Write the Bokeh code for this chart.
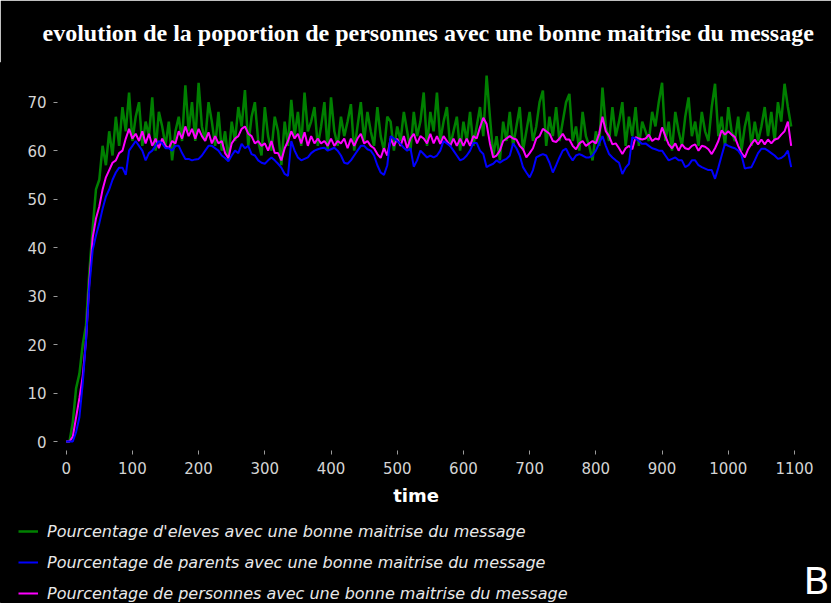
from bokeh.plotting import figure
from bokeh.models import Range1d, FixedTicker, Legend, LegendItem, Label, ColumnDataSource
from bokeh.embed import file_html
from bokeh.resources import INLINE

title_text = "evolution de la poportion de personnes avec une bonne maitrise du message"
x_label = "time"
label_eleves = "Pourcentage d'eleves avec une bonne maitrise du message"
label_parents = "Pourcentage de parents avec une bonne maitrise du message"
label_personnes = "Pourcentage de personnes avec une bonne maitrise du message"
panel_letter = "B"

x_ticks = [0, 100, 200, 300, 400, 500, 600, 700, 800, 900, 1000, 1100]
y_ticks = [0, 10, 20, 30, 40, 50, 60, 70]

time = list(range(0, 1100, 5))

eleves = [
    0, 0, 4, 11, 14, 20, 24, 35, 44, 52,
    54, 61, 57, 64, 59, 67, 61, 69, 64, 72,
    62, 67, 70, 61, 66, 63, 71, 60, 68, 65,
    61, 66, 58, 64, 67, 62, 73.5, 64, 70, 62,
    74, 65, 62, 70, 66, 61, 68, 60, 64, 58,
    66, 62, 69, 65, 72.5, 61, 67, 70, 62, 59,
    69, 63, 60, 67, 64, 57, 66, 61, 70.5, 63,
    68, 61, 72, 64, 66, 69, 61, 65, 70, 60,
    71, 64, 61, 67, 63, 66, 69.6, 60, 65, 70,
    62, 68, 64, 61, 69, 63, 60, 67, 66, 60,
    65, 62, 68, 64, 60, 68, 63, 66, 72, 61,
    68, 64, 72, 62, 66, 69, 61, 64, 67, 60,
    66, 62, 68, 61, 65, 69, 63, 75.5, 67, 59,
    63, 58, 66, 62, 68, 61, 65, 69, 60, 64,
    68, 62, 65, 70, 72.4, 61, 67, 63, 69, 62,
    66, 70, 71.7, 62, 65, 60, 68, 63, 61, 58,
    64, 61, 73, 65, 62, 69, 63, 66, 70, 61,
    67, 63, 69, 61, 66, 64, 62, 68, 65, 70,
    74, 62, 66, 60, 68, 64, 61, 67, 71, 63,
    66, 61, 68, 64, 62, 69, 73.8, 63, 67, 61,
    69, 64, 62, 67, 60, 65, 68, 61, 66, 62,
    65, 69, 63, 68, 62, 70, 66, 73.8, 69, 65,
]

personnes = [
    0, 0, 1, 5, 9, 13.5, 21, 33, 42, 46,
    48.5, 52, 54.5, 56, 57.5, 58, 59.5, 60, 62.5, 64.5,
    62.5, 63.5, 62, 64, 61.5, 63.5, 61, 62.5, 60.5, 62.5,
    61, 60.5, 62, 61.5, 64, 62.5, 65, 63, 64.5, 62.5,
    64.5, 63, 62, 63.8, 61.5, 63, 61.5, 62, 59.5, 58.5,
    61.5, 62.5, 63, 64.5, 65, 63.5, 63, 61.5, 62, 61,
    61.5, 60, 62, 59.5, 59.5, 58, 60.5, 62, 64, 62.5,
    63.5, 61.5, 63.8, 61, 63, 61.5, 62.5, 61.5, 62, 61,
    62.5, 61, 62, 61.5, 62.5, 60.5, 62.5, 61, 62.5, 63.5,
    61.5, 62, 61, 60.5, 59.3, 58.5, 60.5, 59, 62.5, 61,
    62.5, 61, 63, 60.5, 62.5, 63.5, 61.5, 63, 62.5, 61.5,
    63.5, 61.5, 63, 61.4, 63, 62, 61, 62.5, 61, 62.5,
    61, 62.5, 61, 63, 62.5, 64.8, 66.8, 65.5, 61.5, 58.6,
    59, 60, 62, 62.5, 63, 62.5, 62.3, 61, 60.3, 58.6,
    59.5, 60.5, 62.5, 63, 64.5, 64, 63.5, 62, 61.8, 62.5,
    63.5, 62.3, 62.3, 61, 60.3, 61.5, 62, 61, 61.5, 62,
    61.5, 63.5, 67, 64, 63, 61.3, 61.5, 60.5, 59.3, 60.5,
    61, 60.3, 62.8, 62.5, 62.3, 62.5, 63.3, 62, 62.5, 62.3,
    64.8, 63, 61.3, 60.5, 61.5, 60, 61.3, 60.5, 60.3, 61,
    61.3, 60, 61, 60.8, 60.3, 59.3, 60.5, 62, 64.2, 63.3,
    64, 63.3, 62.8, 61, 59.5, 58.6, 60.3, 61.4, 62.3, 61.3,
    62.3, 61.3, 62.3, 61.5, 62.3, 62.5, 63.3, 64, 66, 61,
]

parents = [
    0, 0, 0, 2, 5, 12, 21, 32, 39.5, 42.5,
    45, 48, 50.5, 52, 54, 55.5, 56.5, 56.5, 55, 60,
    61, 62, 61, 60, 58, 59.5, 60, 61, 62, 61.5,
    60.5, 60.5, 60, 61, 61, 59.5, 58.3, 58.3, 58, 58.2,
    58.3, 59, 60, 61, 61, 60.5, 60, 59, 58.5, 57.8,
    59, 60, 59.5, 61.4, 60.5, 61, 59.3, 59, 58, 57.5,
    57.3, 58, 58.6, 58, 57.3, 56.5, 55.2, 54.8, 62, 60,
    58.6, 58, 58.3, 58.6, 59.5, 60, 60.3, 60.5, 60.6, 60,
    60.3, 60.6, 60, 59, 57.5, 57.3, 58, 59, 60, 61,
    61, 60.3, 60, 59, 57, 55.5, 55, 57, 63, 62.5,
    62, 61.4, 60.6, 60, 60.5, 56.7, 58, 60, 59.3, 58.6,
    59, 58.6, 59, 60, 62, 61.5, 61, 60, 59, 58,
    58.3, 59, 60, 61.6, 61.6, 60, 59.3, 56.6, 57, 57.3,
    58, 57.5, 58, 58.3, 59, 61.5, 60.5, 59, 56.6, 55.5,
    54.5, 56, 58.6, 59, 59.3, 59, 57.5, 55.5, 57, 58.6,
    60, 60.4, 59, 58, 59, 59.3, 59, 58.6, 58.6, 59,
    60, 61.5, 63, 61, 59.3, 58.6, 58, 57.5, 55.2, 56.5,
    57.3, 62.8, 62.5, 62, 61.4, 61.5, 61, 60.5, 60.3, 60,
    60, 59, 58, 58.3, 58.6, 58, 58, 56.6, 57, 58,
    58, 57, 56.6, 56.3, 56, 56, 54.2, 56.5, 59, 61.4,
    61, 60.7, 60.5, 60, 59, 56.3, 56.5, 56.6, 58, 59.5,
    60.4, 60.4, 60, 59.5, 59, 58.3, 58.5, 59, 60, 56.6,
]

color_eleves = "#008000"
color_parents = "#0000ff"
color_personnes = "#ff00ff"

src = ColumnDataSource(dict(time=time, eleves=eleves, parents=parents, personnes=personnes))

p = figure(width=831, height=603, output_backend="svg", toolbar_location=None,
           x_range=Range1d(-99.2, 1155.9), y_range=Range1d(-33.42, 78.19),
           min_border_left=0, min_border_right=0, min_border_top=62, min_border_bottom=0,
           background_fill_color="black", border_fill_color="black",
           outline_line_color="black")

p.title.text = title_text
p.title.align = "left"
p.title.offset = 42
p.title.text_color = "white"
p.title.text_font = "Liberation Serif"
p.title.text_font_style = "bold"
p.title.text_font_size = "24px"
p.title.standoff = 33

r_g = p.line("time", "eleves", source=src, line_color=color_eleves, line_width=2.5)
r_m = p.line("time", "personnes", source=src, line_color=color_personnes, line_width=2)
r_b = p.line("time", "parents", source=src, line_color=color_parents, line_width=2)

p.xgrid.visible = False
p.ygrid.visible = False

for ax in (p.xaxis[0], p.yaxis[0]):
    ax.axis_line_color = None
    ax.major_tick_line_color = "#9a9a9a"
    ax.major_tick_out = 4
    ax.major_tick_in = 0
    ax.minor_tick_line_color = None
    ax.major_label_text_color = "#d4d4d4"
    ax.major_label_text_font = "DejaVu Sans"
    ax.major_label_text_font_size = "15px"

p.xaxis.fixed_location = -1.857
p.yaxis.fixed_location = -13.1
p.xaxis.ticker = FixedTicker(ticks=x_ticks)
p.yaxis.ticker = FixedTicker(ticks=y_ticks)
p.xaxis.major_label_standoff = 7
p.yaxis.major_label_standoff = 7
p.xaxis.axis_label = x_label
p.xaxis.axis_label_text_color = "white"
p.xaxis.axis_label_text_font = "DejaVu Sans"
p.xaxis.axis_label_text_font_style = "bold"
p.xaxis.axis_label_text_font_size = "18px"
p.xaxis.axis_label_standoff = 8

legend = Legend(items=[LegendItem(label=label_eleves, renderers=[r_g]),
                       LegendItem(label=label_parents, renderers=[r_b]),
                       LegendItem(label=label_personnes, renderers=[r_m])],
                location=(18, 0), margin=0, padding=0, spacing=11,
                glyph_width=20, glyph_height=20, label_height=20, label_standoff=9,
                background_fill_color="black", background_fill_alpha=1.0,
                border_line_color=None,
                label_text_color="#e8e8e8", label_text_font="DejaVu Sans",
                label_text_font_style="italic", label_text_font_size="16px")
p.add_layout(legend, "center")

p.add_layout(Label(x=816, y=23, x_units="screen", y_units="screen", text=panel_letter,
                   text_color="white", text_font="DejaVu Sans", text_font_size="38px",
                   text_align="center", text_baseline="middle"))

open("out.html", "w").write(file_html(p, INLINE))
